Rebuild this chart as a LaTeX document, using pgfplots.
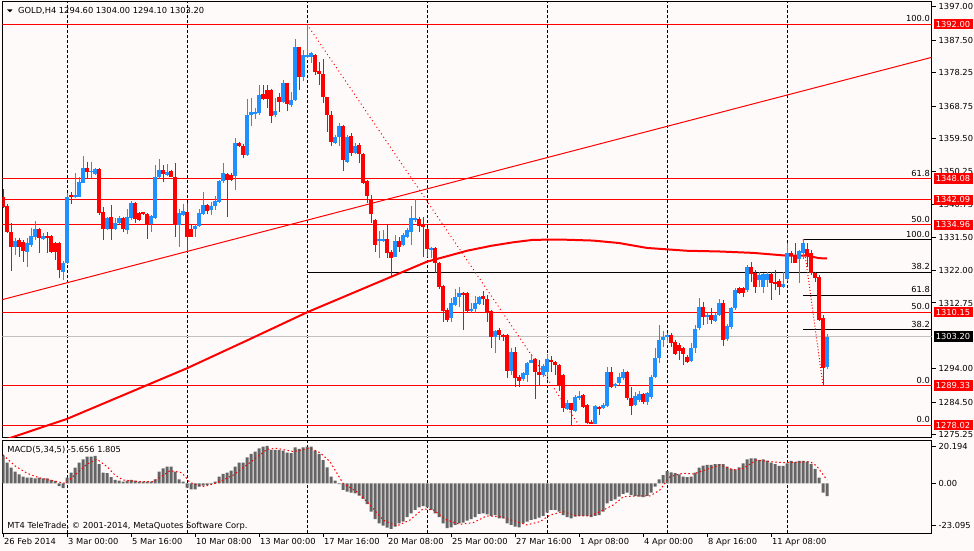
\documentclass[border=0pt]{standalone}
\usepackage{pgfplots}
\pgfplotsset{compat=1.18}
\usepackage{pgfplotstable}
\usepackage{fontspec}
\setmainfont{DejaVu Sans}
\newcommand\lbl{\fontsize{8.3bp}{9.5bp}\selectfont}
\definecolor{bgc}{RGB}{255,250,250}
\definecolor{cblue}{RGB}{30,144,255}
\definecolor{cred}{RGB}{255,0,0}
\definecolor{hgray}{RGB}{100,100,100}
\definecolor{lgray}{RGB}{192,192,192}

\pgfplotstableread{
x o h l c
3 1328.8 1331.1 1326.4 1330.5
6 1327.3 1331.1 1323.1 1329.9
7 1329.3 1334.0 1328.8 1331.8
8 1331.4 1336.2 1330.7 1333.7
10 1330.9 1332.6 1330.7 1331.8
15 1321.7 1324.6 1319.3 1324.2
16 1324.0 1343.9 1323.8 1343.0
18 1342.8 1349.6 1342.5 1343.5
19 1343.0 1348.7 1342.8 1347.3
20 1347.0 1354.5 1346.8 1351.1
22 1349.9 1352.7 1348.2 1350.4
23 1349.4 1351.2 1349.1 1350.9
26 1333.7 1337.3 1333.5 1336.8
28 1333.7 1336.8 1333.5 1335.6
29 1335.4 1337.5 1335.2 1336.8
31 1333.5 1339.4 1332.4 1337.1
32 1336.8 1341.8 1336.3 1341.1
37 1335.2 1337.8 1333.0 1337.5
38 1336.8 1352.0 1336.6 1348.5
39 1348.5 1353.6 1348.1 1350.6
41 1349.1 1352.3 1348.9 1350.1
44 1334.9 1339.4 1328.6 1338.4
45 1337.8 1340.9 1337.5 1339.0
48 1333.7 1335.2 1331.4 1334.6
49 1334.6 1339.4 1334.3 1338.4
50 1338.2 1344.4 1337.9 1340.6
52 1339.2 1341.6 1337.8 1340.4
53 1340.3 1343.2 1339.2 1341.8
54 1341.6 1347.7 1341.3 1347.4
55 1347.3 1352.7 1347.0 1349.6
58 1348.9 1359.6 1344.9 1358.1
61 1354.8 1370.8 1354.6 1366.2
62 1366.2 1370.9 1363.1 1367.1
63 1366.6 1368.1 1365.0 1367.0
64 1366.9 1374.7 1366.2 1371.9
68 1366.2 1370.9 1365.7 1367.2
70 1370.0 1376.3 1369.7 1375.2
72 1369.1 1372.8 1368.4 1370.5
73 1370.5 1387.7 1370.3 1385.4
75 1377.1 1384.7 1376.0 1383.3
76 1382.6 1392.0 1382.3 1383.3
77 1382.8 1384.2 1380.9 1383.7
83 1358.3 1360.5 1357.9 1360.0
84 1359.9 1363.8 1357.5 1363.1
86 1352.9 1360.5 1352.6 1360.0
88 1355.3 1358.2 1355.1 1357.4
94 1330.5 1333.3 1325.5 1330.9
95 1330.5 1333.5 1330.2 1331.0
98 1325.9 1332.1 1325.7 1330.5
100 1329.2 1332.6 1328.9 1332.1
101 1331.4 1334.0 1331.1 1333.5
102 1333.0 1340.3 1329.2 1336.8
103 1336.3 1342.2 1335.9 1336.8
107 1328.0 1328.8 1325.5 1328.4
112 1308.4 1314.1 1307.4 1312.7
113 1312.2 1316.6 1311.9 1314.4
114 1314.4 1317.4 1311.7 1315.7
117 1310.6 1312.7 1309.8 1311.0
118 1311.0 1314.6 1309.8 1312.9
119 1312.5 1314.7 1312.2 1314.4
123 1303.2 1305.1 1298.5 1304.9
127 1293.5 1299.9 1292.4 1298.7
130 1291.1 1293.2 1290.7 1292.8
131 1292.3 1296.1 1290.4 1295.8
132 1295.8 1298.3 1295.6 1296.6
135 1292.3 1295.4 1291.8 1294.8
136 1293.0 1298.3 1291.8 1296.8
141 1282.5 1285.2 1282.3 1284.4
143 1282.1 1286.6 1281.9 1286.1
144 1285.9 1287.8 1285.2 1286.3
148 1278.5 1283.8 1278.4 1283.5
150 1282.8 1284.2 1282.5 1283.8
151 1283.5 1294.5 1283.3 1293.1
153 1289.4 1290.1 1288.5 1289.7
154 1289.9 1292.8 1289.5 1291.6
155 1291.3 1293.9 1290.9 1293.2
158 1283.8 1287.5 1283.5 1286.3
159 1285.2 1287.6 1284.6 1286.9
161 1284.6 1287.5 1283.7 1287.1
162 1286.1 1292.3 1285.6 1291.8
163 1291.6 1299.9 1291.3 1297.0
164 1297.0 1306.5 1295.8 1302.2
165 1302.2 1304.9 1300.3 1303.2
166 1303.0 1304.3 1301.3 1303.6
172 1296.4 1301.5 1296.1 1299.9
173 1299.9 1306.5 1298.6 1305.5
174 1305.5 1314.1 1305.1 1311.7
176 1308.9 1309.8 1306.8 1309.4
178 1307.7 1309.8 1307.4 1309.3
179 1309.3 1313.8 1309.1 1312.7
181 1302.4 1306.8 1302.0 1306.2
182 1306.0 1311.5 1305.5 1311.2
183 1311.2 1316.9 1310.9 1316.4
186 1316.4 1323.7 1316.0 1323.1
189 1319.3 1321.7 1317.2 1320.7
190 1317.4 1321.4 1315.7 1321.0
191 1319.3 1321.7 1317.2 1321.0
195 1317.2 1321.7 1316.9 1318.2
196 1319.5 1329.7 1319.1 1326.9
199 1325.2 1327.8 1318.5 1327.4
200 1327.1 1330.85 1325.2 1329.7
206 1294.6 1304.0 1294.1 1303.2
}\upc

\pgfplotstableread{
x o h l c
0 1343.0 1345.2 1339.7 1340.1
1 1340.4 1340.9 1332.6 1332.8
2 1332.8 1335.4 1321.9 1328.8
4 1330.7 1331.1 1325.9 1328.8
5 1330.2 1330.7 1324.5 1327.6
9 1333.7 1334.2 1326.9 1331.1
11 1331.8 1333.0 1326.9 1331.4
12 1331.8 1332.1 1326.9 1327.2
13 1329.7 1330.2 1325.0 1327.2
14 1329.7 1330.2 1320.0 1322.2
17 1343.6 1344.4 1340.9 1343.0
21 1351.1 1352.9 1348.2 1350.1
24 1350.9 1351.2 1337.8 1338.4
25 1338.5 1340.1 1330.7 1333.7
27 1337.3 1340.6 1330.7 1333.7
30 1337.0 1337.3 1333.0 1333.7
33 1341.1 1341.6 1335.6 1336.5
34 1338.2 1338.7 1336.1 1336.3
35 1338.5 1338.7 1337.8 1338.0
36 1338.2 1338.4 1330.9 1335.2
40 1350.6 1352.0 1347.3 1349.4
42 1350.3 1350.6 1348.5 1348.7
43 1348.5 1352.7 1331.4 1334.9
46 1338.7 1341.3 1327.6 1331.6
47 1333.7 1334.9 1331.4 1331.6
51 1340.6 1340.9 1338.2 1339.0
56 1349.4 1349.8 1337.3 1347.7
57 1349.1 1349.6 1347.3 1347.7
59 1358.3 1358.6 1357.2 1357.4
60 1357.5 1358.1 1353.9 1354.8
65 1372.2 1374.7 1370.5 1370.8
66 1373.3 1374.7 1368.1 1370.8
67 1373.3 1373.5 1364.0 1365.9
69 1371.2 1372.6 1367.2 1370.0
71 1375.2 1375.4 1367.4 1369.3
74 1385.4 1385.6 1373.3 1377.1
78 1383.3 1383.6 1377.6 1378.5
79 1378.7 1381.4 1374.7 1377.9
80 1377.9 1382.0 1369.5 1371.2
81 1371.2 1371.4 1361.5 1366.2
82 1366.2 1367.3 1357.5 1358.6
85 1363.1 1363.4 1350.4 1353.4
87 1360.2 1361.0 1354.4 1355.3
89 1357.7 1358.3 1352.6 1355.1
90 1355.1 1355.3 1346.5 1346.8
91 1347.3 1347.7 1341.1 1343.2
92 1342.0 1343.5 1335.4 1338.2
93 1336.3 1336.6 1327.3 1329.2
96 1330.9 1334.8 1325.5 1326.9
97 1327.3 1327.8 1320.2 1325.5
99 1330.5 1331.6 1327.3 1328.8
104 1336.6 1337.3 1333.0 1334.7
105 1334.9 1337.3 1325.9 1334.5
106 1333.7 1334.0 1325.9 1328.0
108 1328.3 1328.8 1321.2 1324.0
109 1324.0 1324.3 1316.6 1317.4
110 1317.6 1317.9 1307.4 1310.6
111 1310.8 1311.2 1307.4 1307.9
115 1315.7 1316.0 1305.1 1315.0
116 1315.7 1316.0 1310.3 1310.6
120 1314.6 1316.3 1312.2 1313.8
121 1313.9 1315.0 1307.4 1310.3
122 1310.6 1310.8 1299.9 1303.2
124 1305.1 1305.6 1302.2 1303.7
125 1303.7 1304.0 1302.0 1303.2
126 1303.7 1304.0 1291.3 1293.5
128 1298.7 1300.1 1288.9 1291.3
129 1291.6 1292.3 1288.8 1290.7
133 1296.8 1297.0 1285.4 1293.0
134 1293.0 1296.6 1289.2 1292.3
137 1296.6 1297.7 1293.0 1296.1
138 1296.1 1296.4 1292.3 1295.1
139 1295.1 1295.4 1287.8 1289.5
140 1292.3 1292.6 1281.9 1282.8
142 1284.2 1284.4 1278.0 1282.3
145 1286.6 1286.9 1282.8 1283.3
146 1283.8 1284.1 1278.3 1278.6
147 1279.0 1279.5 1278.3 1278.5
149 1283.3 1283.5 1280.9 1282.5
152 1293.1 1294.5 1288.5 1289.0
156 1293.2 1293.5 1285.2 1285.7
157 1285.6 1289.0 1280.9 1283.5
160 1286.9 1287.3 1284.0 1284.6
167 1303.6 1304.1 1300.3 1301.4
168 1301.7 1302.2 1298.0 1298.2
169 1300.9 1301.5 1296.5 1299.2
170 1299.9 1300.3 1295.1 1298.2
171 1297.5 1298.0 1295.6 1296.1
175 1311.7 1313.1 1306.5 1308.9
177 1309.3 1311.2 1306.8 1307.9
180 1312.8 1313.6 1300.5 1302.2
184 1316.9 1317.2 1315.3 1315.5
185 1316.9 1317.2 1314.6 1315.7
187 1323.1 1324.5 1318.8 1321.0
188 1321.2 1322.0 1315.7 1317.2
192 1321.0 1321.7 1313.6 1318.5
193 1318.8 1322.1 1316.5 1318.3
194 1319.1 1319.5 1315.0 1317.2
197 1326.9 1327.4 1324.0 1326.1
198 1326.1 1329.9 1324.0 1324.2
201 1328.0 1329.9 1323.1 1326.4
202 1326.9 1327.8 1320.7 1321.4
203 1321.4 1321.7 1318.8 1319.8
204 1320.1 1320.7 1307.7 1307.9
205 1308.4 1309.3 1289.33 1294.4
}\dnc

\pgfplotstableread{
x m
0 14.9
1 11.3
2 8.5
3 6.4
4 4.9
5 3.6
6 3.1
7 3.1
8 2.7
9 3.1
10 2.7
11 2.7
12 1.8
13 1.3
14 -1.5
15 -2.7
16 3.1
17 5.8
18 8.5
19 11.3
20 13.1
21 14.5
22 14.5
23 14.9
24 10.5
25 5.8
26 5.5
27 3.3
28 1.8
29 1.5
30 0.9
31 1.5
32 1.8
33 1.5
34 0.9
35 0.9
36 0.9
37 0.9
38 2.2
39 6.4
40 8.2
41 9.1
42 9.1
43 6.4
44 2.2
45 0.9
46 -2.4
47 -3.3
48 -3.3
49 -1.8
50 -1.3
51 -0.9
52 -0.4
53 0.9
54 3.6
55 5.1
56 5.8
57 6.9
58 9.1
59 11.3
60 11.3
61 14.2
62 16.0
63 17.3
64 19.1
65 20.0
66 20.4
67 18.2
68 18.2
69 18.2
70 17.8
71 16.7
72 16.4
73 19.6
74 18.7
75 19.6
76 20.0
77 20.0
78 17.8
79 16.0
80 12.7
81 8.7
82 3.6
83 1.5
84 -0.4
85 -3.6
86 -4.5
87 -5.1
88 -5.5
89 -6.7
90 -8.5
91 -11.3
92 -15.4
93 -19.6
94 -21.8
95 -23.1
96 -24.2
97 -24.9
98 -23.6
99 -21.8
100 -20.9
101 -18.5
102 -16.4
103 -14.5
104 -13.1
105 -12.4
106 -13.1
107 -14.5
108 -16.4
109 -18.5
110 -21.8
111 -24.5
112 -24.0
113 -22.7
114 -21.8
115 -21.4
116 -20.4
117 -19.6
118 -18.5
119 -16.7
120 -16.4
121 -16.9
122 -17.8
123 -17.3
124 -19.1
125 -19.1
126 -21.8
127 -22.7
128 -23.6
129 -24.0
130 -21.8
131 -20.9
132 -20.0
133 -19.6
134 -18.7
135 -17.8
136 -16.0
137 -14.5
138 -14.5
139 -15.4
140 -17.3
141 -18.5
142 -19.1
143 -18.2
144 -17.8
145 -17.8
146 -17.8
147 -18.5
148 -17.8
149 -17.3
150 -15.4
151 -10.9
152 -9.6
153 -8.7
154 -7.3
155 -5.8
156 -5.1
157 -6.4
158 -6.9
159 -7.3
160 -7.6
161 -6.9
162 -5.1
163 -1.8
164 2.2
165 4.5
166 6.7
167 6.0
168 5.5
169 4.9
170 3.6
171 3.3
172 3.6
173 5.8
174 8.5
175 9.6
176 10.0
177 10.0
178 10.4
179 10.4
180 10.4
181 9.1
182 7.8
183 7.6
184 8.7
185 10.9
186 13.1
187 13.6
188 13.6
189 12.7
190 13.1
191 12.4
192 11.3
193 10.4
194 9.5
195 9.5
196 10.9
197 12.2
198 11.5
199 12.2
200 12.2
201 11.8
202 10.4
203 7.8
204 3.1
205 -5.1
206 -7.0
}\macdh

\tikzset{
  sep/.style={black, line width=0.8bp, dash pattern=on 3bp off 2bp},
  fiblbl/.style={anchor=south east, inner sep=0pt, font=\lbl, xshift=-1.5bp, yshift=2bp},
  rbox/.style={anchor=west, xshift=1.8bp, fill=cred, text=white, font=\lbl, inner sep=0pt, minimum height=10.5bp, minimum width=39bp},
  kbox/.style={rbox, fill=black},
}
\pgfplotsset{
  wick/.style={only marks, mark=*, mark size=0pt, mark options={draw=none, fill=none}, forget plot, error bars/.cd, y dir=both, y explicit, error mark=none, error bar style={draw=#1, line width=1bp}},
  body/.style={only marks, mark=*, mark size=0pt, mark options={draw=none, fill=none}, forget plot, error bars/.cd, y dir=both, y explicit, error mark=none, error bar style={draw=#1, line width=3.2bp}},
}

\begin{document}
\begin{tikzpicture}[x=1bp,y=1bp]
\fill[bgc] (0,0) rectangle (974,551);
\useasboundingbox (0,0) rectangle (974,551);

% ---------------- main price panel
\begin{axis}[
  at={(2.3bp,113bp)}, anchor=south west, scale only axis,
  width=929.2bp, height=436bp,
  xmin=-0.175, xmax=232.125, ymin=1274.37, ymax=1398.33,
  clip mode=individual,
  axis line style={black, line width=1bp},
  xtick=\empty,
  ytick={1397,1387.5,1378.25,1368.75,1359.5,1350.25,1340.75,1331.5,1322,1312.75,1294,1284.5,1275.25},
  yticklabels={1397.00,1387.50,1378.25,1368.75,1359.50,1350.25,1340.75,1331.50,1322.00,1312.75,1294.00,1284.50,1275.25},
  ytick pos=right, yticklabel pos=right,
  tick align=outside, major tick length=4bp,
  tick style={black, line width=1bp},
  yticklabel style={font=\lbl, anchor=west, inner sep=0pt, xshift=3bp},
]
\pgfplotsinvokeforeach{16,46,76,106,136,166,196}{
  \addplot[sep, forget plot] coordinates {(#1,1270) (#1,1400)};
}
% horizontal levels
\addplot[cred, line width=1bp] coordinates {(-1,1392) (233,1392)};
\addplot[cred, line width=1bp] coordinates {(-1,1348.08) (233,1348.08)};
\addplot[cred, line width=1bp] coordinates {(-1,1342.09) (233,1342.09)};
\addplot[cred, line width=1bp] coordinates {(-1,1334.96) (233,1334.96)};
\addplot[cred, line width=1bp] coordinates {(-1,1310.15) (233,1310.15)};
\addplot[cred, line width=1bp] coordinates {(-1,1289.33) (233,1289.33)};
\addplot[cred, line width=1bp] coordinates {(-1,1278.02) (233,1278.02)};
\addplot[lgray, line width=1bp] coordinates {(-1,1303.2) (233,1303.2)};
% fibonacci levels
\addplot[black, line width=1bp] coordinates {(76,1321.56) (233,1321.56)};
\addplot[black, line width=1bp] coordinates {(200,1330.85) (233,1330.85)};
\addplot[black, line width=1bp] coordinates {(200,1314.99) (233,1314.99)};
\addplot[black, line width=1bp] coordinates {(200,1305.19) (233,1305.19)};
% trend line
\addplot[cred, line width=1bp] coordinates {(-0.2,1313.7) (232.2,1382.6)};
% moving average
\addplot[cred, line width=2bp] coordinates {
(0,1273.7) (16,1279.8) (31,1287.0) (46,1294.2) (61,1302.1) (76,1310.1)
(91,1317.3) (106,1324.5) (116,1327.6) (122,1329.0) (127.5,1330.0)
(132.5,1330.7) (139,1330.8) (147.5,1330.5) (154,1329.8) (161,1328.4)
(171,1327.6) (179,1327.4) (187.5,1327.0) (196,1326.2) (201,1326.2)
(204,1325.5) (206,1325.4)};
% fibonacci trend (dotted)
\addplot[cred, line width=1bp, dash pattern=on 1bp off 3bp] coordinates {(76,1392) (144,1278.0)};
\addplot[cred, line width=1bp, dash pattern=on 1bp off 2bp] coordinates {(200,1330.85) (205,1289.33)};
% candles
\addplot[wick=cblue] table[x=x, y expr={(\thisrow{h}+\thisrow{l})/2}, y error expr={(\thisrow{h}-\thisrow{l})/2}] {\upc};
\addplot[body=cblue] table[x=x, y expr={(\thisrow{o}+\thisrow{c})/2}, y error expr={abs(\thisrow{c}-\thisrow{o})/2}] {\upc};
\addplot[wick=cred] table[x=x, y expr={(\thisrow{h}+\thisrow{l})/2}, y error expr={(\thisrow{h}-\thisrow{l})/2}] {\dnc};
\addplot[body=cred] table[x=x, y expr={(\thisrow{o}+\thisrow{c})/2}, y error expr={abs(\thisrow{c}-\thisrow{o})/2}] {\dnc};
% fib labels
\node[fiblbl] at (axis cs:232.125,1392) {100.0};
\node[fiblbl] at (axis cs:232.125,1348.08) {61.8};
\node[fiblbl] at (axis cs:232.125,1334.96) {50.0};
\node[fiblbl] at (axis cs:232.125,1330.85) {100.0};
\node[fiblbl] at (axis cs:232.125,1321.56) {38.2};
\node[fiblbl] at (axis cs:232.125,1314.99) {61.8};
\node[fiblbl] at (axis cs:232.125,1310.15) {50.0};
\node[fiblbl] at (axis cs:232.125,1305.19) {38.2};
\node[fiblbl] at (axis cs:232.125,1289.33) {0.0};
\node[fiblbl] at (axis cs:232.125,1278.02) {0.0};
% price boxes
\node[rbox] at (axis cs:232.125,1392) {1392.00};
\node[rbox] at (axis cs:232.125,1348.08) {1348.08};
\node[rbox] at (axis cs:232.125,1342.09) {1342.09};
\node[rbox] at (axis cs:232.125,1334.96) {1334.96};
\node[rbox] at (axis cs:232.125,1310.15) {1310.15};
\node[kbox] at (axis cs:232.125,1303.2) {1303.20};
\node[rbox] at (axis cs:232.125,1289.33) {1289.33};
\node[rbox] at (axis cs:232.125,1278.02) {1278.02};
\end{axis}

% ---------------- MACD panel
\begin{axis}[
  at={(2.3bp,17.7bp)}, anchor=south west, scale only axis,
  width=929.2bp, height=92.6bp,
  xmin=-0.175, xmax=232.125, ymin=-27.26, ymax=23.23,
  clip mode=individual,
  axis line style={black, line width=1bp},
  xtick={0,16,32,48,64,80,96,112,128,144,160,176,192},
  xticklabels={26 Feb 2014,3 Mar 00:00,5 Mar 16:00,10 Mar 08:00,13 Mar 00:00,17 Mar 16:00,20 Mar 08:00,25 Mar 00:00,27 Mar 16:00,1 Apr 08:00,4 Apr 00:00,8 Apr 16:00,11 Apr 08:00},
  xtick pos=left,
  xticklabel style={font=\lbl, anchor=north west, inner sep=0pt, xshift=1bp, yshift=-1bp},
  ytick={-23.095,0,20.194},
  yticklabels={-23.095,0.00,20.194},
  ytick pos=right, yticklabel pos=right,
  tick align=outside, major tick length=4bp,
  tick style={black, line width=1bp},
  yticklabel style={font=\lbl, anchor=west, inner sep=0pt, xshift=3bp},
]
\pgfplotsinvokeforeach{16,46,76,106,136,166,196}{
  \addplot[sep, forget plot] coordinates {(#1,-30) (#1,30)};
}
\addplot[ybar, bar width=3bp, bar shift=0pt, fill=hgray, draw=none] table[x=x, y=m] {\macdh};
\addplot[cred, line width=1bp, dash pattern=on 1.5bp off 2.5bp] coordinates {
(0,15.5) (3,9.5) (6,5.5) (9,3.0) (13.5,0.9) (15.5,0) (18.5,5.5) (21,10.5)
(23.5,13.1) (26,9.1) (28,4.5) (30,1.8) (34,0.9) (37.5,0.9) (39.5,3.6)
(41.75,6.9) (44.7,5.8) (46.75,0.4) (50,-1.8) (52.6,-0.4) (55,1.8) (57.6,4.5)
(60,8.5) (62.6,12.7) (66,18.5) (68.4,19.1) (72.6,17.3) (76.75,19.1)
(79.25,16.7) (81.75,11.8) (85,0) (88.4,-4.5) (91.75,-11.8) (95,-20.0)
(98.4,-23.3) (101.75,-20.0) (105,-14.0) (107.6,-14.5) (110.9,-20.0)
(114.25,-22.4) (117.6,-21.4) (120.9,-17.8) (124.25,-18.2) (127.6,-20.4)
(131,-22.7) (134.25,-20.9) (136.75,-17.3) (140,-15.4) (143.4,-17.8)
(146.75,-17.8) (149.25,-15.4) (152.6,-11.8) (155.1,-7.3) (158.4,-6.9)
(161.75,-6.9) (164.25,-3.6) (166.75,3.6) (170,5.5) (172.6,5.1) (176,7.6)
(179.25,10.0) (182.6,7.3) (185.1,8.2) (188.4,12.7) (191.75,11.8)
(195.1,11.3) (198.5,11.5) (201.75,11.8) (203.4,9.5) (206,1.8)};
\end{axis}

% texts
\fill (7,541.7) -- (12.7,541.7) -- (9.85,538.8) -- cycle;
\node[anchor=west, inner sep=0pt, font=\lbl] at (18,540.5) {GOLD,H4 1294.60 1304.00 1294.10 1303.20};
\node[anchor=west, inner sep=0pt, font=\lbl] at (7.3,101) {MACD(5,34,5) -5.656 1.805};
\node[anchor=west, inner sep=0pt, font=\lbl] at (7.3,25) {MT4 TeleTrade, © 2001-2014, MetaQuotes Software Corp.};
\end{tikzpicture}
\end{document}
